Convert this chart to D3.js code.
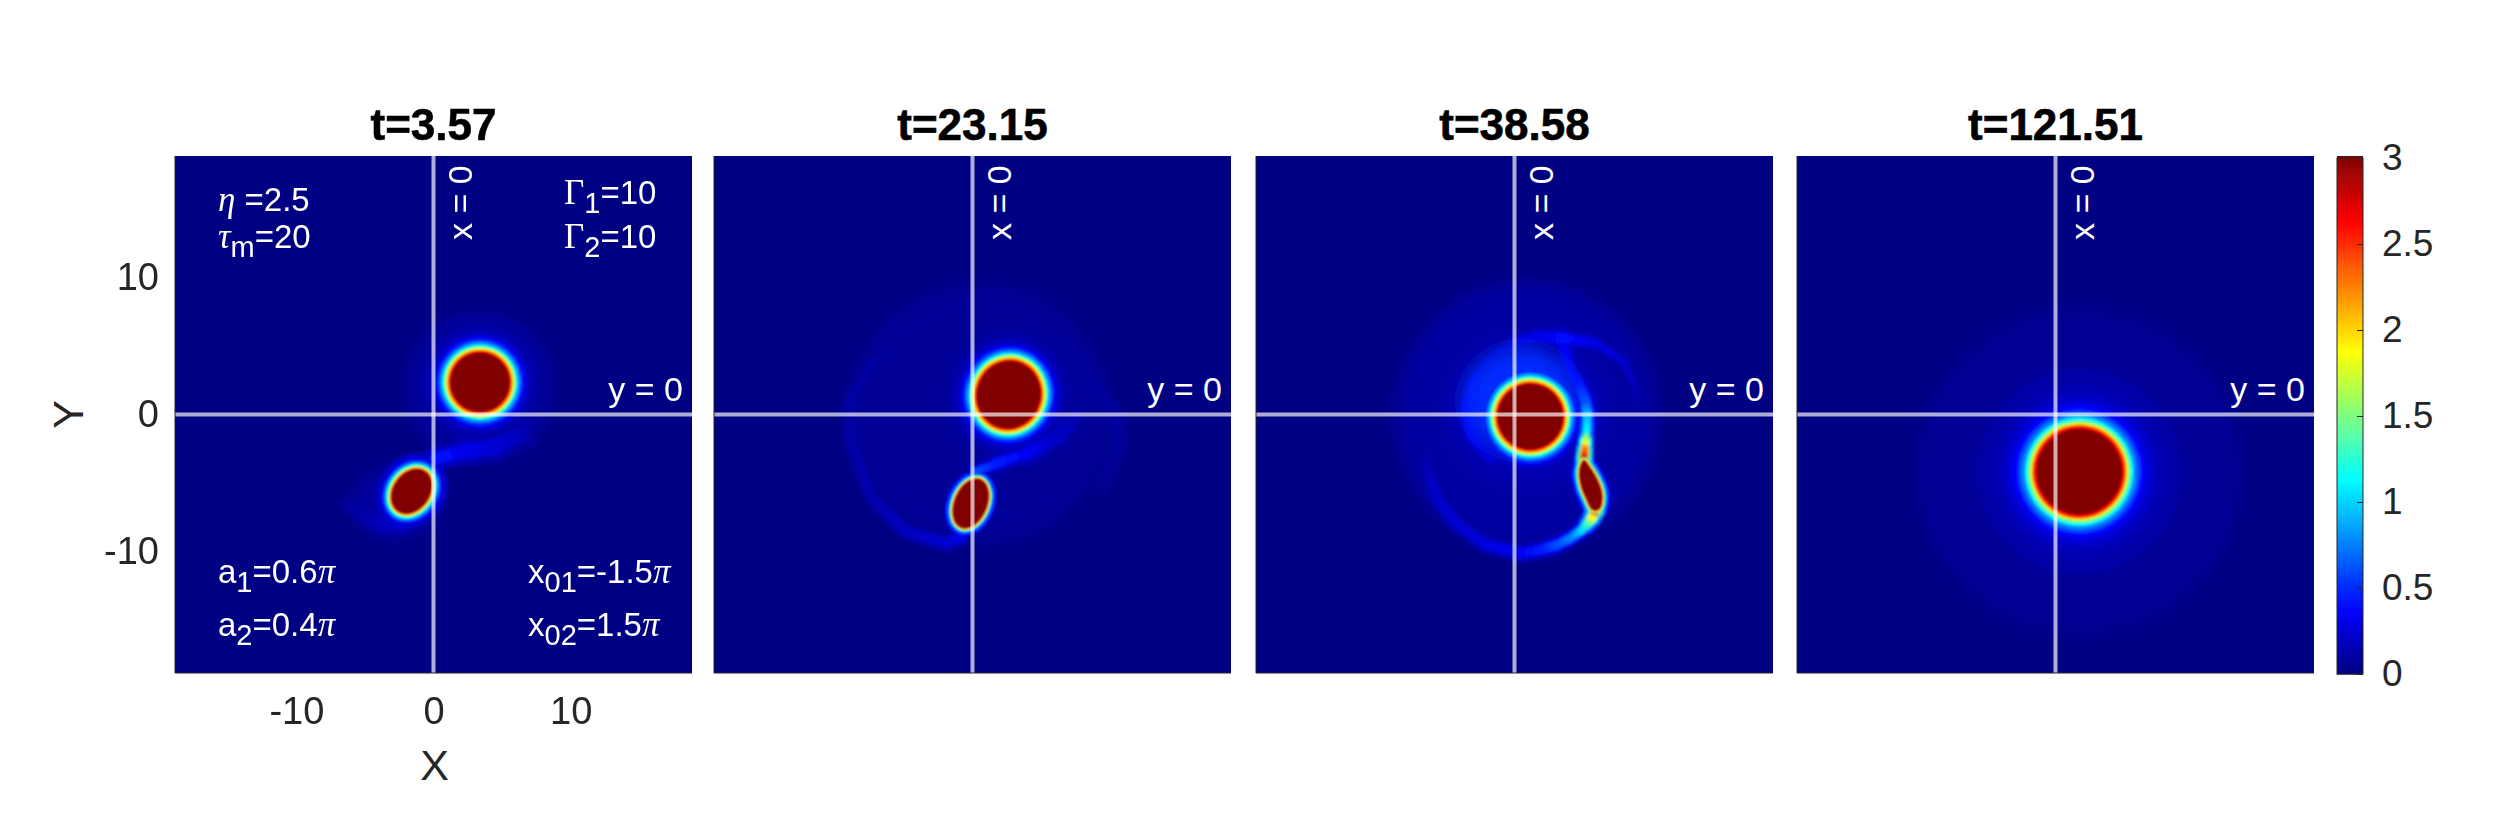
<!doctype html>
<html lang="en">
<head>
  <meta charset="utf-8">
  <title>Vortex merger</title>
  <script src="https://d3js.org/d3.v7.min.js"></script>
  <style>
    html, body { margin: 0; background: #fff; }
    text { font-family: "Liberation Sans", Arial, sans-serif; }
  </style>
</head>
<body>
  <div id="container"></div>
<script>
  // Labels and ticks
  const titles = ['t=3.57', 't=23.15', 't=38.58', 't=121.51'];
  const xTicks = [-10, 0, 10];
  const yTicks = [-10, 0, 10];
  const barTicks = [0, 0.5, 1, 1.5, 2, 2.5, 3];
  const domainMax = 6 * Math.PI;

  // jet colormap, value -> colour
  const jetValues = [0, 0.375, 1.125, 1.875, 2.625, 3];
  const jetColors = ['#000083', '#0000ff', '#00ffff', '#ffff00', '#ff0000', '#800000'];

  const haloMid = [[2.8, 0.07], [2, 0.12], [1.5, 0.2], [1.2, 0.33], [1, 0.5], [0.8, 0.8], [0.62, 1.1], [0.52, 1.3], [0.43, 1.55], [0.36, 1.75], [0.3, 1.95], [0.23, 2.25], [0.16, 2.5], [0.08, 2.75]];
  const haloTight = [[1.2, 0.18], [0.85, 0.3], [0.66, 0.5], [0.52, 0.8], [0.4, 1.1], [0.28, 1.5], [0.18, 1.9], [0.12, 2.3], [0.06, 2.7]];
  const haloThin = [[0.65, 0.3], [0.45, 0.55], [0.32, 0.9], [0.22, 1.3], [0.14, 1.9], [0.08, 2.4]];
  const haloWide = [[6, 0.06], [4.4, 0.1], [3.4, 0.14], [2.6, 0.2], [2.1, 0.27], [1.7, 0.38], [1.4, 0.55], [1.15, 0.75], [0.9, 1.05], [0.75, 1.25], [0.6, 1.55], [0.44, 1.95], [0.34, 2.25], [0.25, 2.55], [0.1, 2.8]];
  const halos = { mid: haloMid, tight: haloTight, thin: haloThin, wide: haloWide };

  // Vortex cores per panel: [cx, cy, rx, ry, tilt in degrees, halo]
  const vortices1 = [[3.39, 2.35, 2.15, 2.15, 0, 'mid'], [-1.6, -5.6, 1.75, 1.32, 55, 'tight']];
  const vortices2 = [[2.64, 1.44, 2.46, 2.3, 75, 'mid'], [-0.13, -6.49, 1.9, 1.2, 68, 'thin']];
  const vortices3 = [[1.15, -0.16, 2.38, 2.38, 0, 'mid']];
  const vortices4 = [[1.73, -4.17, 3.1, 3.1, 0, 'wide']];
  const vortices = [vortices1, vortices2, vortices3, vortices4];

  // Stretched core in the third panel, outline points
  const teardropX = [5.07, 5.39, 5.87, 6.31, 6.41, 6.24, 5.87, 5.56, 5.26, 4.9, 4.73, 4.78];
  const teardropY = [-3.32, -3.68, -4.41, -5.39, -6.11, -6.84, -7.02, -6.84, -6.23, -5.39, -4.53, -3.8];

  // Filaments: [x, y, value, width]
  const filaments1 = [
    [[0.15, -3.2, 0.42, 0.7], [2.2, -2.7, 0.32, 0.9], [4.3, -2.4, 0.25, 1.0], [6.4, -1.4, 0.16, 1.1], [6.9, -0.66, 0.1, 1.0]],
    [[-2.2, -8.0, 0.28, 0.7], [-3.4, -8.1, 0.22, 0.7], [-5, -7.5, 0.14, 0.7], [-6.3, -6.5, 0.08, 0.7]]
  ];
  const filaments2 = [
    [[0.2, -4.2, 0.6, 0.4], [1.65, -3.6, 0.45, 0.55], [3.9, -2.85, 0.34, 0.7], [6.2, -1.6, 0.2, 1.0], [7.7, 0.07, 0.1, 1.1]],
    [[-0.8, -8.9, 0.35, 0.5], [-1.9, -9.4, 0.24, 0.6], [-4.9, -8.5, 0.18, 0.6], [-7.4, -6, 0.13, 0.6], [-8.8, -2.1, 0.11, 0.6], [-8.9, 1, 0.1, 0.6], [-7.4, 3.7, 0.09, 0.6], [-6.1, 4.7, 0.07, 0.6]],
    [[9.4, -5.3, 0.07, 0.6], [10.6, -2.6, 0.1, 0.6], [10.6, -0.2, 0.11, 0.6], [9.4, 1.3, 0.09, 0.6], [6.7, 5.2, 0.08, 0.8], [2.7, 6.9, 0.06, 0.8]]
  ];
  const filaments3 = [
    [[5.07, -3.2, 2.7, 0.58], [5.14, -2.47, 2.3, 0.55], [5.19, -1.98, 1.8, 0.5], [5.26, -1.13, 1.1, 0.55], [5.31, -0.04, 0.9, 0.6], [5.14, 1.06, 0.6, 0.65], [4.65, 2.28, 0.45, 0.7], [4.05, 3.25, 0.35, 0.7], [3.57, 5.0, 0.33, 0.7]],
    [[3.57, 5.56, 0.4, 0.7], [5.83, 5.2, 0.3, 0.5], [7.84, 3.98, 0.22, 0.5], [8.84, 2.02, 0.16, 0.5], [8.97, 0.56, 0.1, 0.5]],
    [[3.57, 5.56, 0.4, 0.8], [1.56, 5.68, 0.3, 0.7], [0.05, 5.2, 0.28, 0.7], [-1.7, 3.98, 0.3, 0.8], [-2.96, 2.27, 0.36, 0.9], [-3.47, 0.32, 0.38, 0.9], [-2.96, -1.63, 0.34, 0.9], [-1.7, -3.1, 0.25, 0.9]],
    [[5.87, -7.08, 2.6, 0.55], [5.63, -7.57, 1.9, 0.7], [5.26, -8.05, 1.3, 0.55], [4.9, -8.43, 1.0, 0.5], [4.05, -9.03, 0.75, 0.5], [3.08, -9.52, 0.6, 0.6], [1.86, -9.88, 0.45, 0.6], [0.4, -10.13, 0.35, 0.6], [-2.2, -9.44, 0.28, 0.6], [-4.2, -8, 0.24, 0.6], [-5.7, -6, 0.22, 0.7], [-6.35, -4.07, 0.16, 0.7], [-6.2, -2.2, 0.08, 0.7]]
  ];
  const filaments = [filaments1, filaments2, filaments3, []];

  // Soft background glows: [cx, cy, rx, ry, value]
  const glows1 = [[3.35, 2.0, 5.5, 5.5, 0.07], [-2.6, -6.4, 3.2, 2.6, 0.09]];
  const glows2 = [[3.2, 1.4, 4.6, 4.8, 0.12], [5.2, -0.9, 2.5, 1.8, 0.16], [0.5, 0, 9.6, 9.6, 0.06]];
  const glows3 = [[0.9, -0.1, 9.6, 9.8, 0.09], [0.9, 0.3, 5.8, 5.6, 0.14], [0.5, 1.0, 4.0, 3.7, 0.5]];
  const glows4 = [[1.73, -4.17, 12, 12, 0.05]];
  const glows = [glows1, glows2, glows3, glows4];

  const width = 2500, height = 833;
  const panelLeft = [175, 714, 1256, 1797];
  const panelTop = 156, panelSize = 517;
  const haloSplit = 0.9;  // below this the halo goes under the filaments
  const blueEnd = 1.1;    // up to here jet only gets lighter, so lighten blending is safe

  const jet = d3.scaleLinear().domain(jetValues).range(jetColors).clamp(true);
  const x = d3.scaleLinear().domain([-domainMax, domainMax]).range([0, panelSize]);
  const y = d3.scaleLinear().domain([-domainMax, domainMax]).range([panelSize, 0]);
  const unit = x(1) - x(0);

  const svg = d3.select('#container').append('svg')
    .attr('width', width).attr('height', height)
    .style('display', 'block');
  const defs = svg.append('defs');

  defs.append('clipPath').attr('id', 'panelClip').append('rect')
    .attr('width', panelSize).attr('height', panelSize);

  function blurFilter(id, amount) {
    defs.append('filter').attr('id', id)
      .attr('filterUnits', 'userSpaceOnUse')
      .attr('x', -60).attr('y', -60).attr('width', panelSize + 120).attr('height', panelSize + 120)
      .append('feGaussianBlur').attr('stdDeviation', amount);
  }
  blurFilter('soft', 0.8);
  blurFilter('softer', 9);
  blurFilter('ridge', 1.4);
  blurFilter('faint', 5);

  const outline = d3.line().x(d => x(d[0])).y(d => y(d[1])).curve(d3.curveCatmullRomClosed);

  let gradId = 0;
  function drawFilament(low, high, nodes, widthScale, valueScale) {
    d3.pairs(nodes).forEach(([a, b]) => {
      const id = 'seg' + (gradId++);
      const grad = defs.append('linearGradient').attr('id', id)
        .attr('gradientUnits', 'userSpaceOnUse')
        .attr('x1', x(a[0])).attr('y1', y(a[1]))
        .attr('x2', x(b[0])).attr('y2', y(b[1]));
      grad.append('stop').attr('offset', 0).attr('stop-color', jet(a[2] * valueScale));
      grad.append('stop').attr('offset', 1).attr('stop-color', jet(b[2] * valueScale));
      const g = Math.max(a[2], b[2]) * valueScale < blueEnd ? low : high;
      g.append('line')
        .attr('x1', x(a[0])).attr('y1', y(a[1]))
        .attr('x2', x(b[0])).attr('y2', y(b[1]))
        .attr('stroke', `url(#${id})`)
        .attr('stroke-linecap', 'round')
        .attr('stroke-width', (a[3] + b[3]) / 2 * unit * widthScale);
    });
  }

  function drawHalos(g, keep) {
    return (v) => {
      const [cx, cy, rx, ry, tilt, haloName] = v;
      const blob = g.append('g').attr('transform', `rotate(${-tilt},${x(cx)},${y(cy)})`);
      blob.selectAll('ellipse').data(halos[haloName].filter(keep)).enter().append('ellipse')
        .attr('cx', x(cx)).attr('cy', y(cy))
        .attr('rx', d => (rx + d[0]) * unit).attr('ry', d => (ry + d[0]) * unit)
        .attr('fill', d => jet(d[1]));
    };
  }

  panelLeft.forEach((left, i) => {
    const panel = svg.append('g').attr('transform', `translate(${left},${panelTop})`);
    const field = panel.append('g').attr('clip-path', 'url(#panelClip)');
    field.append('rect').attr('width', panelSize).attr('height', panelSize).attr('fill', jet(0));

    // outer part of the halos
    const under = field.append('g').attr('filter', 'url(#soft)');
    vortices[i].forEach(drawHalos(under, d => d[1] < haloSplit));

    // glows, on top of the low halo values without hiding them
    field.append('g').attr('filter', 'url(#softer)').style('mix-blend-mode', 'lighten')
      .selectAll('ellipse').data(glows[i]).enter().append('ellipse')
      .attr('cx', d => x(d[0])).attr('cy', d => y(d[1]))
      .attr('rx', d => d[2] * unit).attr('ry', d => d[3] * unit)
      .attr('fill', d => jet(d[4]));

    // filaments, faint arcs get more blur, strong ones a tight ridge
    const faintG = field.append('g').attr('filter', 'url(#faint)').style('mix-blend-mode', 'lighten');
    const isFaint = f => d3.max(f, d => d[2]) < 0.3;
    filaments[i].filter(isFaint).forEach(f => {
      drawFilament(faintG, faintG, f, 1.5, 0.7);
      drawFilament(faintG, faintG, f, 1, 1);
    });

    const drop = d3.zip(teardropX, teardropY);
    if (i === 2) {
      field.append('g').attr('filter', 'url(#soft)').style('mix-blend-mode', 'lighten')
        .selectAll('path').data(haloThin.filter(d => d[1] < blueEnd)).enter().append('path')
        .attr('d', outline(drop))
        .attr('fill', d => jet(d[1]))
        .attr('stroke', d => jet(d[1]))
        .attr('stroke-linejoin', 'round')
        .attr('stroke-width', d => d[0] * 2 * unit);
    }

    const ridgeLow = field.append('g').attr('filter', 'url(#ridge)').style('mix-blend-mode', 'lighten');
    const ridgeHigh = field.append('g').attr('filter', 'url(#ridge)');
    const strong = filaments[i].filter(f => !isFaint(f));
    strong.forEach(f => drawFilament(ridgeLow, ridgeHigh, f, 2.3, 0.35));
    strong.forEach(f => drawFilament(ridgeLow, ridgeHigh, f, 1.6, 0.6));
    strong.forEach(f => drawFilament(ridgeLow, ridgeHigh, f, 1, 1));

    // inner halos and the cores
    const ink = field.append('g').attr('filter', 'url(#soft)');
    vortices[i].forEach(drawHalos(ink, d => d[1] >= haloSplit));
    vortices[i].forEach(([cx, cy, rx, ry, tilt]) => {
      ink.append('ellipse')
        .attr('transform', `rotate(${-tilt},${x(cx)},${y(cy)})`)
        .attr('cx', x(cx)).attr('cy', y(cy))
        .attr('rx', rx * unit).attr('ry', ry * unit)
        .attr('fill', jet(3));
    });
    if (i === 2) {
      ink.selectAll('path').data(haloThin.filter(d => d[1] >= blueEnd)).enter().append('path')
        .attr('d', outline(drop))
        .attr('fill', d => jet(d[1]))
        .attr('stroke', d => jet(d[1]))
        .attr('stroke-linejoin', 'round')
        .attr('stroke-width', d => d[0] * 2 * unit);
      ink.append('path').attr('class', 'core').attr('d', outline(drop)).attr('fill', jet(3));
    }

    // x = 0 and y = 0 guide lines
    const guides = panel.append('g')
      .attr('stroke', '#fff').attr('stroke-opacity', 0.68).attr('stroke-width', 4);
    guides.append('line').attr('x1', x(0)).attr('x2', x(0)).attr('y1', 0).attr('y2', panelSize);
    guides.append('line').attr('x1', 0).attr('x2', panelSize).attr('y1', y(0)).attr('y2', y(0));

    panel.append('text')
      .attr('x', panelSize - 9).attr('y', y(0) - 14)
      .attr('text-anchor', 'end').attr('fill', '#fff').attr('font-size', 34)
      .text('y = 0');
    panel.append('text')
      .attr('transform', `translate(${x(0) + 38},${84}) rotate(-90)`)
      .attr('fill', '#fff').attr('font-size', 34)
      .text('x = 0');

    // frame
    panel.append('path')
      .attr('d', `M0,0V${panelSize}H${panelSize}`)
      .attr('fill', 'none').attr('stroke', '#262626').attr('stroke-width', 1);

    panel.append('text')
      .attr('x', panelSize / 2).attr('y', -16)
      .attr('text-anchor', 'middle').attr('font-size', 44).attr('font-weight', 700)
      .attr('fill', '#000').attr('stroke', '#000').attr('stroke-width', 0.6)
      .text(titles[i]);

    if (i === 0) {
      const xAxis = panel.append('g').attr('transform', `translate(0,${panelSize})`)
        .call(d3.axisBottom(x).tickValues(xTicks).tickSize(0).tickPadding(24).tickFormat(String));
      const yAxis = panel.append('g')
        .call(d3.axisLeft(y).tickValues(yTicks).tickSize(0).tickPadding(16).tickFormat(String));
      [xAxis, yAxis].forEach(a => {
        a.select('.domain').remove();
        a.selectAll('text').attr('font-size', 38).attr('fill', '#262626')
          .attr('font-family', '"Liberation Sans", Arial, sans-serif');
      });
      panel.append('text')
        .attr('x', panelSize / 2 + 1).attr('y', 780 - panelTop)
        .attr('text-anchor', 'middle').attr('font-size', 43).attr('fill', '#262626')
        .text('X');
      panel.append('text')
        .attr('transform', `translate(${83 - left},${panelSize / 2}) rotate(-90)`)
        .attr('text-anchor', 'middle').attr('font-size', 43).attr('fill', '#262626')
        .text('Y');
    }
  });

  // Parameter notes in the first panel: g = greek, s = subscript
  function note(px, py, parts) {
    const t = svg.append('text').attr('x', px).attr('y', py)
      .attr('fill', '#fff').attr('font-size', 33);
    let shift = 0;
    parts.forEach(([str, kind]) => {
      const s = t.append('tspan').text(str);
      const drop = kind === 's' ? 9 : 0;
      if (drop !== shift) s.attr('dy', drop - shift);
      shift = drop;
      if (kind === 's') s.attr('font-size', 29);
      if (kind === 'g') s.attr('font-family', '"Liberation Serif", serif').attr('font-style', 'italic').attr('font-size', 35);
      if (kind === 'G') s.attr('font-family', '"Liberation Serif", serif').attr('font-size', 35);
    });
  }
  note(218, 211, [['η', 'g'], [' =2.5', '']]);
  note(218, 248, [['τ', 'g'], ['m', 's'], ['=20', '']]);
  note(564, 204, [['Γ', 'G'], ['1', 's'], ['=10', '']]);
  note(564, 248, [['Γ', 'G'], ['2', 's'], ['=10', '']]);
  note(218, 583, [['a', ''], ['1', 's'], ['=0.6', ''], ['π', 'g']]);
  note(218, 636, [['a', ''], ['2', 's'], ['=0.4', ''], ['π', 'g']]);
  note(528, 583, [['x', ''], ['01', 's'], ['=-1.5', ''], ['π', 'g']]);
  note(528, 636, [['x', ''], ['02', 's'], ['=1.5', ''], ['π', 'g']]);

  // Colorbar
  const barX = 2337, barW = 26, barTop = 158, barH = 516;
  const barScale = d3.scaleLinear().domain([0, 3]).range([barH, 0]);
  const bar = svg.append('g').attr('transform', `translate(${barX},${barTop})`);
  const levels = d3.range(256).map(k => k / 255 * 3);
  bar.selectAll('rect').data(levels).enter().append('rect')
    .attr('x', 0).attr('width', barW)
    .attr('y', d => barScale(d) - barH / 256)
    .attr('height', barH / 256 + 0.6)
    .attr('fill', d => jet(d));
  bar.append('rect').attr('width', barW).attr('height', barH)
    .attr('fill', 'none').attr('stroke', '#262626').attr('stroke-width', 1);
  const barAxis = bar.append('g').attr('transform', `translate(${barW},0)`)
    .call(d3.axisRight(barScale).tickValues(barTicks).tickSize(-6).tickPadding(19).tickFormat(d => d));
  barAxis.select('.domain').remove();
  barAxis.selectAll('line').attr('stroke', '#262626');
  barAxis.selectAll('text').attr('font-size', 37).attr('fill', '#262626')
    .attr('font-family', '"Liberation Sans", Arial, sans-serif');
</script>
</body>
</html>
